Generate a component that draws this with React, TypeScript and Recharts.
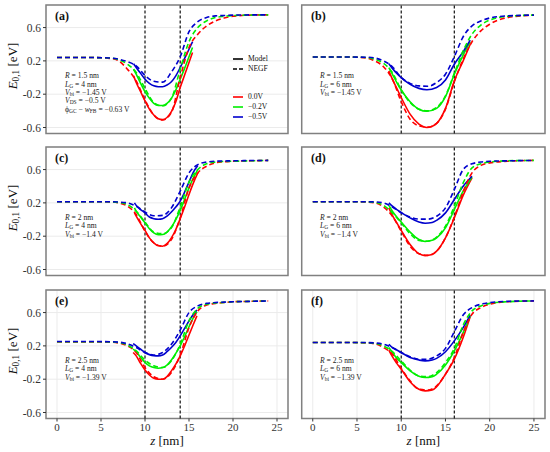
import React from 'react';
import { LineChart, Line, XAxis, YAxis, CartesianGrid, ReferenceLine, ReferenceArea } from 'recharts';

// NEGF grids (z in nm) for the 4 nm and 6 nm gate panels
const zNegf4 = [0, 2, 4, 6, 7, 8, 9, 10, 11, 12, 13, 14, 15, 16, 17, 18, 19, 20, 22, 24];
const zNegf6 = [0, 2, 4, 6, 7, 8, 9, 10, 11, 12, 13, 14, 15, 16, 17, 18, 19, 20, 22, 25];

// (a) R = 1.5 nm, LG = 4 nm
const negfRedA = [0.24, 0.24, 0.24, 0.23, 0.2, 0.1, -0.04, -0.27, -0.45, -0.51, -0.42, 0.0, 0.36, 0.52, 0.62, 0.68, 0.715, 0.735, 0.75, 0.753];
const negfGreenA = [0.24, 0.24, 0.24, 0.235, 0.215, 0.16, 0.06, -0.13, -0.3, -0.34, -0.25, 0.1, 0.43, 0.6, 0.68, 0.72, 0.735, 0.745, 0.75, 0.753];
const negfBlueA = [0.24, 0.24, 0.24, 0.235, 0.22, 0.19, 0.14, 0.025, -0.045, -0.055, 0.065, 0.25, 0.55, 0.67, 0.72, 0.74, 0.745, 0.75, 0.752, 0.753];
const zModelA = [8.7, 9, 9.5, 10, 10.5, 11, 11.5, 12, 12.5, 13, 13.5, 14, 14.5, 15, 15.4];
const modelRedA = [0.02, -0.06, -0.17, -0.28, -0.38, -0.45, -0.495, -0.505, -0.48, -0.41, -0.29, -0.12, 0.03, 0.18, 0.3];
const modelGreenA = [0.1, 0.04, -0.07, -0.17, -0.25, -0.31, -0.335, -0.335, -0.31, -0.25, -0.15, -0.02, 0.11, 0.25, 0.36];
const modelBlueA = [0.165, 0.12, 0.05, -0.02, -0.07, -0.1, -0.11, -0.11, -0.09, -0.05, 0.02, 0.12, 0.23, 0.34, 0.43];

// (b) R = 1.5 nm, LG = 6 nm
const negfRedB = [0.246, 0.246, 0.246, 0.235, 0.2, 0.13, -0.02, -0.29, -0.5, -0.58, -0.595, -0.55, -0.38, -0.05, 0.22, 0.43, 0.56, 0.64, 0.72, 0.75];
const negfGreenB = [0.246, 0.246, 0.246, 0.24, 0.22, 0.17, 0.06, -0.15, -0.3, -0.38, -0.4, -0.36, -0.22, 0.05, 0.32, 0.52, 0.63, 0.69, 0.735, 0.75];
const negfBlueB = [0.246, 0.246, 0.246, 0.244, 0.235, 0.2, 0.13, 0.0, -0.07, -0.1, -0.105, -0.06, 0.04, 0.25, 0.49, 0.62, 0.68, 0.715, 0.74, 0.75];
const zModelB = [8.6, 9, 9.5, 10, 11, 12, 12.9, 14, 15, 16, 17, 17.8];
const modelRedB = [0.08, -0.02, -0.13, -0.24, -0.44, -0.56, -0.6, -0.55, -0.37, -0.04, 0.2, 0.4];
const modelGreenB = [0.12, 0.04, -0.06, -0.15, -0.29, -0.38, -0.405, -0.37, -0.23, 0.04, 0.27, 0.43];
const modelBlueB = [0.166, 0.11, 0.05, 0.0, -0.08, -0.13, -0.147, -0.12, -0.03, 0.16, 0.31, 0.45];

// (c) R = 2 nm, LG = 4 nm
const negfRedC = [0.214, 0.214, 0.214, 0.212, 0.2, 0.16, 0.06, -0.14, -0.28, -0.32, -0.24, 0.02, 0.38, 0.56, 0.64, 0.68, 0.693, 0.7, 0.705, 0.71];
const negfGreenC = [0.214, 0.214, 0.214, 0.213, 0.205, 0.18, 0.1, -0.03, -0.15, -0.17, -0.1, 0.15, 0.45, 0.6, 0.67, 0.69, 0.697, 0.7, 0.705, 0.71];
const negfBlueC = [0.214, 0.214, 0.214, 0.214, 0.21, 0.2, 0.16, 0.09, 0.045, 0.05, 0.14, 0.34, 0.56, 0.66, 0.69, 0.7, 0.703, 0.705, 0.708, 0.71];
const zModelC = [8.8, 9, 9.5, 10, 10.5, 11, 11.5, 12, 12.5, 13, 13.5, 14, 14.5, 15, 15.5, 16];
const modelRedC = [0.08, 0.04, -0.05, -0.13, -0.22, -0.28, -0.315, -0.32, -0.29, -0.22, -0.12, 0.01, 0.15, 0.3, 0.44, 0.56];
const modelGreenC = [0.14, 0.1, 0.03, -0.04, -0.11, -0.16, -0.183, -0.18, -0.15, -0.09, 0.0, 0.11, 0.24, 0.38, 0.5, 0.6];
const modelBlueC = [0.2, 0.17, 0.12, 0.08, 0.03, 0.01, 0.004, 0.01, 0.04, 0.09, 0.15, 0.22, 0.33, 0.45, 0.57, 0.65];

// (d) R = 2 nm, LG = 6 nm
const negfRedD = [0.214, 0.214, 0.214, 0.21, 0.2, 0.15, 0.04, -0.14, -0.32, -0.41, -0.43, -0.38, -0.22, 0.03, 0.33, 0.56, 0.65, 0.68, 0.7, 0.71];
const negfGreenD = [0.214, 0.214, 0.214, 0.213, 0.205, 0.17, 0.08, -0.04, -0.17, -0.25, -0.26, -0.21, -0.08, 0.16, 0.44, 0.62, 0.67, 0.69, 0.705, 0.71];
const negfBlueD = [0.214, 0.214, 0.214, 0.214, 0.212, 0.2, 0.15, 0.08, 0.03, 0.005, 0.005, 0.04, 0.14, 0.36, 0.6, 0.67, 0.69, 0.7, 0.705, 0.71];
const zModelD = [8.6, 9, 9.5, 10, 11, 12, 12.7, 13.5, 14, 15, 16, 17, 18];
const modelRedD = [0.14, 0.05, -0.04, -0.13, -0.3, -0.41, -0.433, -0.42, -0.38, -0.22, 0.02, 0.29, 0.5];
const modelGreenD = [0.17, 0.1, 0.03, -0.03, -0.15, -0.24, -0.263, -0.25, -0.22, -0.1, 0.12, 0.34, 0.51];
const modelBlueD = [0.2, 0.16, 0.12, 0.085, 0.02, -0.03, -0.044, -0.035, -0.01, 0.08, 0.24, 0.4, 0.52];

// (e) R = 2.5 nm, LG = 4 nm
const negfRedE = [0.248, 0.248, 0.248, 0.245, 0.235, 0.2, 0.12, -0.06, -0.17, -0.2, -0.12, 0.09, 0.42, 0.62, 0.69, 0.71, 0.72, 0.73, 0.735, 0.74];
const negfGreenE = [0.25, 0.25, 0.25, 0.248, 0.24, 0.21, 0.14, 0.03, -0.04, -0.06, 0.02, 0.22, 0.5, 0.65, 0.7, 0.715, 0.722, 0.73, 0.735, 0.74];
const negfBlueE = [0.252, 0.252, 0.252, 0.25, 0.245, 0.225, 0.18, 0.12, 0.09, 0.12, 0.22, 0.39, 0.6, 0.68, 0.71, 0.72, 0.725, 0.73, 0.735, 0.74];
const zModelE = [8.65, 9, 9.5, 10, 10.5, 11, 11.5, 12, 12.5, 13, 13.5, 14, 14.5, 15, 15.5, 15.9];
const modelRedE = [0.12, 0.08, -0.01, -0.09, -0.15, -0.19, -0.2, -0.2, -0.17, -0.1, -0.02, 0.08, 0.2, 0.33, 0.46, 0.56];
const modelGreenE = [0.16, 0.13, 0.06, 0.0, -0.04, -0.06, -0.068, -0.06, -0.03, 0.03, 0.11, 0.2, 0.31, 0.43, 0.54, 0.61];
const modelBlueE = [0.228, 0.2, 0.16, 0.12, 0.095, 0.082, 0.08, 0.09, 0.13, 0.18, 0.24, 0.32, 0.41, 0.5, 0.58, 0.63];

// (f) R = 2.5 nm, LG = 6 nm
const negfRedF = [0.24, 0.24, 0.24, 0.236, 0.225, 0.18, 0.1, -0.07, -0.22, -0.32, -0.33, -0.28, -0.14, 0.06, 0.36, 0.58, 0.66, 0.7, 0.73, 0.74];
const negfGreenF = [0.24, 0.24, 0.24, 0.238, 0.23, 0.2, 0.13, 0.02, -0.09, -0.16, -0.17, -0.12, 0.0, 0.17, 0.45, 0.62, 0.68, 0.71, 0.73, 0.74];
const negfBlueF = [0.24, 0.24, 0.24, 0.24, 0.235, 0.22, 0.18, 0.12, 0.07, 0.04, 0.04, 0.08, 0.17, 0.37, 0.57, 0.66, 0.7, 0.72, 0.735, 0.74];
const zModelF = [8.6, 9, 9.5, 10, 11, 12, 12.7, 13.5, 14, 15, 16, 17, 17.8];
const modelRedF = [0.15, 0.07, -0.01, -0.08, -0.23, -0.32, -0.34, -0.33, -0.29, -0.14, 0.04, 0.3, 0.55];
const modelGreenF = [0.18, 0.12, 0.05, 0.0, -0.1, -0.165, -0.18, -0.17, -0.14, -0.03, 0.14, 0.36, 0.56];
const modelBlueF = [0.22, 0.18, 0.15, 0.12, 0.06, 0.03, 0.02, 0.03, 0.05, 0.13, 0.26, 0.42, 0.57];

const panelLabels = ['(a)', '(b)', '(c)', '(d)', '(e)', '(f)'];
const radii = ['1.5', '1.5', '2', '2', '2.5', '2.5'];
const gateLengths = ['4', '6', '4', '6', '4', '6'];
const builtIn = ['\u22121.45', '\u22121.45', '\u22121.4', '\u22121.4', '\u22121.39', '\u22121.39'];
const gateEnds = [14, 16, 14, 16, 14, 16];
const biasLabels = ['0.0V', '\u22120.2V', '\u22120.5V'];

const xTicks = [0, 5, 10, 15, 20, 25];
const yTicks = [-0.6, -0.2, 0.2, 0.6];

const RED = '#ff0000';
const GREEN = '#00ee00';
const BLUE = '#0000cd';
const colors = [RED, GREEN, BLUE];

const X_DOMAIN: [number, number] = [-1.25, 26.25];
const Y_DOMAIN: [number, number] = [-0.672, 0.871];

const cols = [
  { x: 0, w: 290, axisW: 46, right: 2 },
  { x: 290, w: 260, axisW: 11.7, right: 5 },
];
const rowTops = [4.7, 146.5, 289.5];
const PLOT_H = 128.5;

const panels = [
  { zN: zNegf4, n: [negfRedA, negfGreenA, negfBlueA], zM: zModelA, m: [modelRedA, modelGreenA, modelBlueA] },
  { zN: zNegf6, n: [negfRedB, negfGreenB, negfBlueB], zM: zModelB, m: [modelRedB, modelGreenB, modelBlueB] },
  { zN: zNegf4, n: [negfRedC, negfGreenC, negfBlueC], zM: zModelC, m: [modelRedC, modelGreenC, modelBlueC] },
  { zN: zNegf6, n: [negfRedD, negfGreenD, negfBlueD], zM: zModelD, m: [modelRedD, modelGreenD, modelBlueD] },
  { zN: zNegf4, n: [negfRedE, negfGreenE, negfBlueE], zM: zModelE, m: [modelRedE, modelGreenE, modelBlueE] },
  { zN: zNegf6, n: [negfRedF, negfGreenF, negfBlueF], zM: zModelF, m: [modelRedF, modelGreenF, modelBlueF] },
];

function buildRows(p: typeof panels[number]) {
  const map = new Map<number, any>();
  const put = (z: number, key: string, v: number) => {
    const r = map.get(z) ?? { z };
    r[key] = v;
    map.set(z, r);
  };
  p.zN.forEach((z, i) => p.n.forEach((s, k) => put(z, 'n' + k, s[i])));
  p.zM.forEach((z, i) => p.m.forEach((s, k) => put(z, 'm' + k, s[i])));
  return [...map.values()].sort((a, b) => a.z - b.z);
}

const Sub = ({ children }: { children: React.ReactNode }) => (
  <span style={{ fontSize: '0.72em', verticalAlign: '-0.25em', lineHeight: 0 }}>{children}</span>
);

const serif = '"Liberation Serif", "Times New Roman", Times, serif';
const tickStyle = { fontSize: 11, fill: '#333', fontFamily: serif };

function Panel({ idx }: { idx: number }) {
  const col = cols[idx % 2];
  const row = Math.floor(idx / 2);
  const bottom = row === 2;
  const axisH = bottom ? 22 : 6;
  const data = buildRows(panels[idx]);
  return (
    <div style={{ position: 'absolute', left: col.x, top: rowTops[row] - 2 }}>
      <LineChart
        width={col.w}
        height={2 + PLOT_H + axisH}
        data={data}
        margin={{ top: 2, right: col.right, bottom: 0, left: 0 }}
      >
        <CartesianGrid stroke="#ebebeb" strokeWidth={1} />
        <XAxis
          type="number"
          dataKey="z"
          domain={X_DOMAIN}
          ticks={xTicks}
          allowDataOverflow
          height={axisH}
          axisLine={false}
          tickSize={3}
          tickLine={{ stroke: '#333' }}
          tick={bottom ? tickStyle : false}
        />
        <YAxis
          type="number"
          domain={Y_DOMAIN}
          ticks={yTicks}
          allowDataOverflow
          width={col.axisW}
          axisLine={false}
          tickSize={3}
          tickLine={{ stroke: '#333' }}
          tickFormatter={(v: number) => v.toFixed(1)}
          tick={idx % 2 === 0 ? { ...tickStyle, fontSize: 11.5 } : false}
        />
        <ReferenceArea
          x1={X_DOMAIN[0]}
          x2={X_DOMAIN[1]}
          y1={Y_DOMAIN[0]}
          y2={Y_DOMAIN[1]}
          fill="none"
          fillOpacity={0}
          stroke="#808080"
          strokeWidth={1.5}
        />
        <ReferenceLine x={10} stroke="#111" strokeDasharray="3 2" strokeWidth={1.2} />
        <ReferenceLine x={gateEnds[idx]} stroke="#111" strokeDasharray="3 2" strokeWidth={1.2} />
        {colors.map((c, k) => (
          <Line
            key={'m' + k}
            type="monotone"
            dataKey={'m' + k}
            stroke={c}
            strokeWidth={1.6}
            dot={false}
            connectNulls
            isAnimationActive={false}
          />
        ))}
        {colors.map((c, k) => (
          <Line
            key={'n' + k}
            type="monotone"
            dataKey={'n' + k}
            stroke={c}
            strokeWidth={1.6}
            strokeDasharray="5 3"
            dot={false}
            connectNulls
            isAnimationActive={false}
          />
        ))}
      </LineChart>
    </div>
  );
}

function Notes({ idx }: { idx: number }) {
  const row = Math.floor(idx / 2);
  const left = idx % 2 === 0 ? 65 : 320;
  return (
    <div
      style={{
        position: 'absolute',
        left,
        top: rowTops[row] + 67.5,
        fontSize: 7.6,
        lineHeight: '8.4px',
        whiteSpace: 'nowrap',
        color: '#222',
      }}
    >
      <div><i>R</i> = {radii[idx]} nm</div>
      <div><i>L</i><Sub>G</Sub> = {gateLengths[idx]} nm</div>
      <div><i>V</i><Sub>bi</Sub> = {builtIn[idx]} V</div>
      {idx === 0 && (
        <>
          <div><i>V</i><Sub>DS</Sub> = {'\u2212'}0.5 V</div>
          <div>{'\u03d5'}<Sub>GC</Sub> {'\u2212'} <i>w</i><Sub>FB</Sub> = {'\u2212'}0.63 V</div>
        </>
      )}
    </div>
  );
}

function Legend() {
  const item = (y: number, label: string, color: string, dashed: boolean) => (
    <div key={label} style={{ position: 'absolute', left: 233, top: y - 4, height: 8, display: 'flex', alignItems: 'center' }}>
      <svg width={11} height={8}>
        <line x1={0} y1={4} x2={10} y2={4} stroke={color} strokeWidth={1.6} strokeDasharray={dashed ? '4 2' : undefined} />
      </svg>
      <span style={{ fontSize: 7.6, marginLeft: 4, lineHeight: '8px' }}>{label}</span>
    </div>
  );
  return (
    <>
      {item(59, 'Model', '#000', false)}
      {item(69, 'NEGF', '#000', true)}
      {biasLabels.map((b, k) => item(96.7 + k * 10, b, colors[k], false))}
    </>
  );
}

export default function App() {
  return (
    <div
      style={{
        position: 'absolute',
        left: 0,
        top: 0,
        width: 550,
        height: 452,
        background: '#fff',
        fontFamily: serif,
        color: '#111',
        overflow: 'hidden',
      }}
    >
      {panels.map((_, i) => (
        <Panel key={i} idx={i} />
      ))}
      {panels.map((_, i) => (
        <Notes key={'t' + i} idx={i} />
      ))}
      {panelLabels.map((l, i) => (
        <div
          key={l}
          style={{
            position: 'absolute',
            left: i % 2 === 0 ? 55 : 311,
            top: rowTops[Math.floor(i / 2)] + 4,
            fontSize: 12,
            fontWeight: 'bold',
            lineHeight: '14px',
          }}
        >
          {l}
        </div>
      ))}
      {rowTops.map((t, r) => (
        <div
          key={'y' + r}
          style={{
            position: 'absolute',
            left: 13,
            top: t + 61,
            transform: 'translate(-50%, -50%) rotate(-90deg)',
            whiteSpace: 'nowrap',
            fontSize: 13,
            lineHeight: '14px',
          }}
        >
          <i>E</i><Sub>0,1</Sub> [eV]
        </div>
      ))}
      {[167, 423.4].map((cx, k) => (
        <div
          key={'x' + k}
          style={{
            position: 'absolute',
            left: cx,
            top: 441,
            transform: 'translate(-50%, -50%)',
            whiteSpace: 'nowrap',
            fontSize: 13,
            lineHeight: '14px',
          }}
        >
          <i>z</i> [nm]
        </div>
      ))}
      <Legend />
    </div>
  );
}
